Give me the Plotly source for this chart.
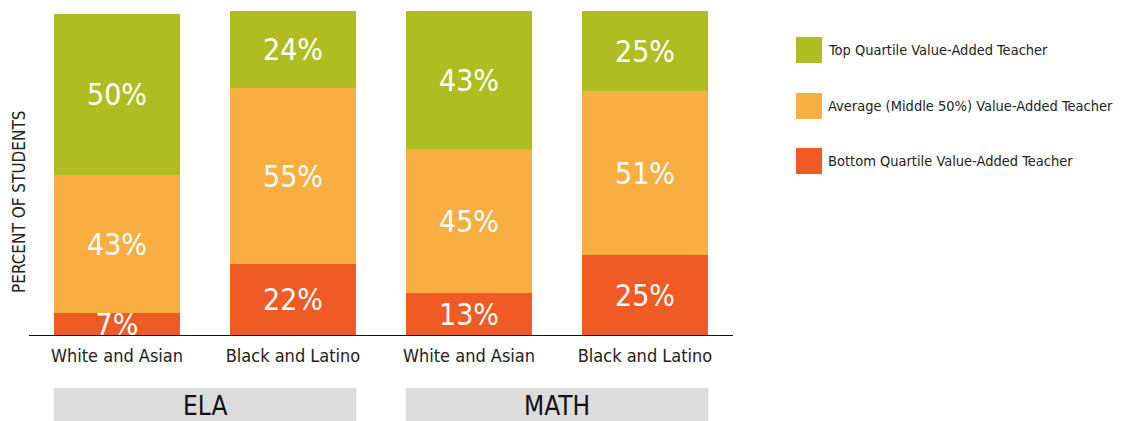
import plotly.graph_objects as go

# ---- data ----
groups = ["White and Asian", "Black and Latino", "White and Asian", "Black and Latino"]
subjects = ["ELA", "MATH"]
bottom_quartile = [7, 22, 13, 25]
average_middle = [43, 55, 45, 51]
top_quartile = [50, 24, 43, 25]
series_names = [
    "Bottom Quartile Value-Added Teacher",
    "Average (Middle 50%) Value-Added Teacher",
    "Top Quartile Value-Added Teacher",
]
colors = ["#f05a24", "#f9ae42", "#b0bd22"]

FONT = "DejaVu Sans Condensed, Liberation Sans Narrow, sans-serif"
OFF = 8  # page body margin
W, H = 1128 - OFF, 421 - OFF
# target pixel geometry in the screenshot
PL, PR, PT, PB = 29, 733, 8, 335
ML, MT = PL - OFF, PT - OFF
MR = W - (PR - OFF)
MB = H - (PB - OFF)
PH = PB - PT
PW = PR - PL
BAR_W = 0.72


def py(p):  # screenshot pixel y -> paper y
    return (PB - p) / PH


def px(p):  # screenshot pixel x -> paper x
    return (p - PL) / PW


x = list(range(len(groups)))
fig = go.Figure()
for name, vals, col in zip(series_names, [bottom_quartile, average_middle, top_quartile], colors):
    fig.add_trace(go.Bar(
        x=x, y=vals, name=name, marker=dict(color=col, line=dict(width=0)),
        width=BAR_W, texttemplate="%{y}%", textposition="inside",
        insidetextanchor="middle",
        textfont=dict(family=FONT, size=30, color="white"),
        showlegend=False, hoverinfo="skip",
    ))

shapes = []
annotations = []
for i, s in enumerate(subjects):
    x0 = 2 * i - BAR_W / 2
    x1 = 2 * i + 1 + BAR_W / 2
    shapes.append(dict(type="rect", xref="x", yref="paper", x0=x0, x1=x1,
                       y0=py(440), y1=py(388), fillcolor="#dcdcdc", line=dict(width=0), layer="below"))
    annotations.append(dict(xref="x", yref="paper", x=2 * i + 0.5, y=py(406), text=s,
                            showarrow=False, font=dict(family=FONT, size=26, color="#111"),
                            xanchor="center", yanchor="middle"))

leg_order = [2, 1, 0]
leg_tops = [37, 93, 148]
for k, idx in enumerate(leg_order):
    t = leg_tops[k]
    shapes.append(dict(type="rect", xref="paper", yref="paper", x0=px(796), x1=px(822),
                       y0=py(t + 26), y1=py(t), fillcolor=colors[idx], line=dict(width=0)))
    annotations.append(dict(xref="paper", yref="paper", x=px(826), y=py(t + 13), text=series_names[idx],
                            showarrow=False, xanchor="left", yanchor="middle",
                            font=dict(family=FONT, size=14.5, color="#222")))

annotations.append(dict(xref="paper", yref="paper", x=px(19), y=py(202), text="PERCENT OF STUDENTS",
                        textangle=-90, showarrow=False, xanchor="center", yanchor="middle",
                        font=dict(family=FONT, size=17, color="#222")))

fig.update_layout(
    width=W, height=H, autosize=False,
    margin=dict(l=ML, r=MR, t=MT, b=MB, pad=0),
    barmode="stack", bargap=0,
    paper_bgcolor="white", plot_bgcolor="white",
    uniformtext=dict(minsize=30, mode="show"),
    shapes=shapes, annotations=annotations,
    xaxis=dict(range=[-0.5, len(groups) - 0.5], tickvals=x, ticktext=groups,
               showline=True, linecolor="#111", linewidth=1.3, ticks="", showgrid=False,
               zeroline=False, tickfont=dict(family=FONT, size=18, color="#222"),
               ticklabelstandoff=4, fixedrange=True),
    yaxis=dict(range=[0, 102], visible=False, fixedrange=True),
)

fig.write_html("out.html")
